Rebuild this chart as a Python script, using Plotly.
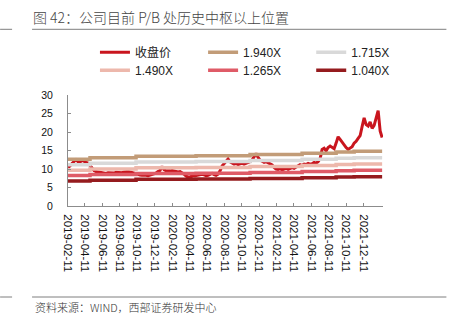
import plotly.graph_objects as go
import pandas as pd

W, H = 454, 323
PL, PR, PT, PB = 68, 383.5, 94.7, 205.7


def xp(px):
    return (px - PL) / (PR - PL)


def yp(py):
    return (PB - py) / (PB - PT)


# ---------------- data ----------------
start_date = "2019-02-11"
end_date = "2022-02-17"
n_weeks = 158
dates = pd.date_range(start_date, periods=n_weeks, freq="7D")

close = [
    10.4, 10.8, 11.5, 12.0, 12.5, 12.0, 11.8, 12.4, 12.0, 11.8,
    11.6, 10.9, 10.2, 9.6, 9.3, 9.2, 9.0, 9.1, 8.9, 8.8,
    9.0, 8.9, 8.8, 8.9, 9.1, 9.0, 8.9, 9.0, 9.2, 9.3,
    9.4, 9.2, 9.0, 8.9, 8.7, 8.5, 8.4, 8.3, 8.4, 8.3,
    8.2, 8.4, 8.5, 8.6, 8.9, 9.3, 9.6, 10.7, 9.8, 9.5,
    9.4, 9.5, 9.6, 9.4, 9.3, 9.2, 9.3, 9.0, 8.6, 8.1,
    7.8, 7.9, 8.0, 8.2, 8.4, 8.3, 8.5, 8.6, 8.4, 8.2,
    8.3, 8.6, 8.8, 8.5, 8.3, 8.6, 9.5, 10.8, 11.4, 12.2,
    12.7, 11.9, 11.5, 11.3, 11.5, 11.2, 11.4, 11.6, 11.3, 11.5,
    11.7, 12.0, 12.4, 13.4, 14.2, 13.1, 12.4, 12.1, 11.8, 12.0,
    11.7, 11.5, 11.1, 10.4, 10.0, 9.9, 10.1, 9.8, 10.0, 10.2,
    9.9, 10.1, 10.4, 10.2, 10.6, 10.9, 11.2, 11.0, 11.3, 11.2,
    11.5, 11.3, 11.4, 11.8, 11.6, 12.0, 12.8, 15.3, 15.6, 14.9,
    15.8, 16.2, 15.9, 15.5, 17.0, 18.7, 18.0, 17.2, 16.5, 15.8,
    15.3, 15.6, 16.0, 17.0, 17.5, 18.3, 19.0, 21.5, 23.8, 22.0,
    21.6, 22.7, 21.0, 21.8, 24.0, 25.8, 20.3, 18.5,
]

# book value per share (step changes at report dates)
bps_dates = ["2019-02-11", "2019-04-29", "2019-10-07", "2020-05-04",
             "2020-11-09", "2021-05-10", "2021-09-06", "2021-11-08"]
bps_vals = [6.5, 6.72, 6.92, 7.0, 7.17, 7.35, 7.52, 7.62]

multiples = [1.940, 1.715, 1.490, 1.265, 1.040]
band_names = ["1.940X", "1.715X", "1.490X", "1.265X", "1.040X"]
band_colors = ["#C29C78", "#D9D9D9", "#EDB8AC", "#DF5B67", "#951B1E"]
price_name = "收盘价"
price_color = "#C9151E"

tick_dates = ["2019-02-11", "2019-04-11", "2019-06-11", "2019-08-11",
              "2019-10-11", "2019-12-11", "2020-02-11", "2020-04-11",
              "2020-06-11", "2020-08-11", "2020-10-11", "2020-12-11",
              "2021-02-11", "2021-04-11", "2021-06-11", "2021-08-11",
              "2021-10-11", "2021-12-11"]

title_text = "图 42：公司目前 P/B 处历史中枢以上位置"
source_text = "资料来源：WIND，西部证券研发中心"

# ---------------- build ----------------
bps_series = pd.Series(bps_vals, index=pd.to_datetime(bps_dates))
bps_weekly = bps_series.reindex(dates, method="ffill")

legend_ids = ["legend", "legend2", "legend3", "legend4", "legend5", "legend6"]

fig = go.Figure()
fig.add_trace(go.Scatter(
    x=dates, y=close, name=price_name, mode="lines",
    line=dict(color=price_color, width=3), legend=legend_ids[0]))

for i, (m, nm, c) in enumerate(zip(multiples, band_names, band_colors)):
    fig.add_trace(go.Scatter(
        x=dates, y=[m * b for b in bps_weekly.values], name=nm, mode="lines",
        line=dict(color=c, width=3.5, shape="hv"),
        legend=legend_ids[i + 1]))

FONT = "Liberation Sans, Arial, Noto Sans CJK SC, sans-serif"
legend_common = dict(
    orientation="h", xanchor="left", yanchor="middle",
    bgcolor="rgba(0,0,0,0)", borderwidth=0,
    font=dict(family=FONT, size=12, color="#222"),
    itemclick=False,
)

legend_pos = [(95, 52), (203.3, 52), (311.6, 52),
              (95, 70), (203.3, 70), (311.6, 70)]
legend_layout = {}
for lid, (lx, ly) in zip(legend_ids, legend_pos):
    legend_layout[lid] = dict(x=xp(lx), y=yp(ly), **legend_common)

fig.update_layout(
    width=W, height=H,
    margin=dict(l=PL, r=W - PR, t=PT, b=H - PB, pad=0),
    paper_bgcolor="white", plot_bgcolor="white",
    showlegend=True,
    **legend_layout,
    xaxis=dict(
        type="date", range=[start_date, end_date],
        tickmode="array", tickvals=tick_dates, ticktext=tick_dates,
        tickangle=90, ticks="inside", ticklen=3, tickcolor="#8c8c8c",
        showline=True, linecolor="#8c8c8c", linewidth=1,
        showgrid=False, zeroline=False,
        tickfont=dict(family=FONT, size=11.5, color="#111"),
        ticklabelstandoff=5,
    ),
    yaxis=dict(
        range=[0, 30], dtick=5, tick0=0,
        ticks="inside", ticklen=3, tickcolor="#8c8c8c",
        showline=True, linecolor="#8c8c8c", linewidth=1,
        showgrid=False, zeroline=False,
        tickfont=dict(family=FONT, size=10.5, color="#111"),
        ticklabelstandoff=12,
    ),
    title=dict(
        text=title_text, x=33 / W, xanchor="left", xref="container",
        y=1 - 18 / H, yanchor="middle", yref="container",
        font=dict(family="Noto Sans CJK SC", size=14, color="#444", weight=300),
    ),
)

line_color = "#7f7f7f"
for y_px in (29, 296.7):
    fig.add_shape(type="line", xref="paper", yref="paper",
                  x0=xp(32), x1=xp(447), y0=yp(y_px), y1=yp(y_px),
                  line=dict(color=line_color, width=1))
    fig.add_shape(type="line", xref="paper", yref="paper",
                  x0=xp(0), x1=xp(12), y0=yp(y_px), y1=yp(y_px),
                  line=dict(color=line_color, width=1))

fig.add_annotation(
    text=source_text, xref="paper", yref="paper",
    x=xp(33), y=yp(307), xanchor="left", yanchor="middle",
    showarrow=False,
    font=dict(family="Noto Sans CJK SC", size=11, color="#333", weight=300),
)

fig.write_html("out.html")
